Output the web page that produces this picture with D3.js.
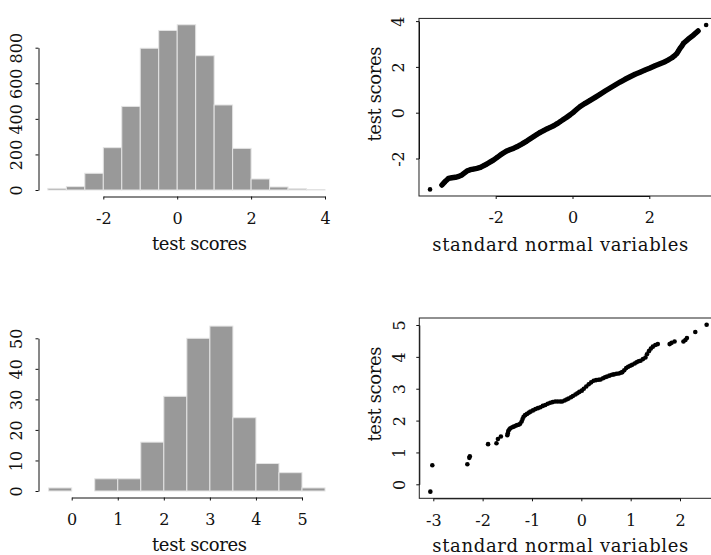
<!DOCTYPE html>
<html>
<head>
<meta charset="utf-8">
<script src="https://cdn.jsdelivr.net/npm/d3@7"></script>
<style>
    body { margin: 0; background: #fff; }
    svg { display: block; overflow: hidden; }
    text { font-family: "DejaVu Serif", serif; fill: #111; }
</style>
</head>
<body>
<div id="chart"></div>
<script>
// ---- data ----

// top left: histogram of 5000 test scores (bins of 0.5)
let hist1Edges = [-3.5, -3, -2.5, -2, -1.5, -1, -0.5, 0, 0.5, 1, 1.5, 2, 2.5, 3, 3.5, 4];
let hist1Counts = [9, 19, 94, 238, 470, 797, 897, 929, 755, 478, 234, 62, 17, 7, 2];
let hist1XTicks = [-2, 0, 2, 4];
let hist1YTicks = [0, 200, 400, 600, 800];

// bottom left: histogram of 200 test scores
let hist2Edges = [-0.5, 0, 0.5, 1, 1.5, 2, 2.5, 3, 3.5, 4, 4.5, 5, 5.5];
let hist2Counts = [1, 0, 4, 4, 16, 31, 50, 54, 24, 9, 6, 1];
let hist2XTicks = [0, 1, 2, 3, 4, 5];
let hist2YTicks = [0, 10, 20, 30, 40, 50];

// top right: qq plot (standard normal vs test scores), traced along the dense band
let qq1Theo = [-3.71, -3.40, -3.32, -3.23, -3.14, -3.05, -2.96, -2.88, -2.75, -2.66, -2.58, -2.49, -2.40, -2.31, -2.23,
    -2.14, -2.06, -1.97, -1.88, -1.80, -1.71, -1.62, -1.54, -1.45, -1.36, -1.28, -1.19, -1.10, -1.02, -0.93, -0.84,
    -0.75, -0.67, -0.58, -0.49, -0.40, -0.32, -0.23, -0.15, -0.06, 0.03, 0.12, 0.20, 0.33, 0.46, 0.59, 0.72, 0.85,
    0.98, 1.11, 1.24, 1.37, 1.50, 1.63, 1.76, 1.89, 2.02, 2.15, 2.28, 2.41, 2.50, 2.59, 2.66, 2.72, 2.76, 2.80, 2.85,
    2.89, 2.96, 3.02, 3.09, 3.15, 3.21, 3.27, 3.48];
let qq1Sample = [-3.35, -3.16, -3.01, -2.87, -2.84, -2.82, -2.78, -2.72, -2.55, -2.49, -2.46, -2.43, -2.39, -2.31, -2.24,
    -2.15, -2.07, -1.96, -1.85, -1.76, -1.67, -1.61, -1.56, -1.49, -1.41, -1.33, -1.24, -1.14, -1.05, -0.95, -0.86,
    -0.78, -0.71, -0.64, -0.57, -0.48, -0.39, -0.29, -0.20, -0.09, 0.03, 0.16, 0.27, 0.41, 0.54, 0.67, 0.81, 0.95,
    1.08, 1.21, 1.34, 1.46, 1.57, 1.68, 1.77, 1.86, 1.95, 2.05, 2.14, 2.23, 2.31, 2.40, 2.49, 2.59, 2.70, 2.81, 2.92,
    3.03, 3.13, 3.22, 3.31, 3.39, 3.48, 3.57, 3.83];
let qq1XTicks = [-2, 0, 2];
let qq1YTicks = [-2, 0, 2, 4];

// bottom right: qq plot of the 200 scores
let qq2Theo = [-3.06, -3.02, -2.31, -2.27, -2.26, -1.89, -1.72, -1.69, -1.63, -1.50, -1.49, -1.48, -1.46, -1.44, -1.40,
    -1.37, -1.33, -1.30, -1.27, -1.24, -1.21, -1.19, -1.17, -1.14, -1.10, -1.06, -1.03, -0.98, -0.93, -0.88, -0.83,
    -0.78, -0.73, -0.68, -0.63, -0.58, -0.53, -0.48, -0.43, -0.39, -0.34, -0.30, -0.26, -0.21, -0.17, -0.12, -0.08,
    -0.04, 0.01, 0.05, 0.10, 0.15, 0.20, 0.25, 0.30, 0.35, 0.39, 0.44, 0.48, 0.52, 0.57, 0.62, 0.66, 0.71, 0.76, 0.80,
    0.83, 0.87, 0.91, 0.95, 0.99, 1.03, 1.08, 1.12, 1.16, 1.20, 1.25, 1.30, 1.33, 1.37, 1.41, 1.45, 1.50, 1.55, 1.79,
    1.83, 1.89, 2.07, 2.11, 2.14, 2.31, 2.54];
let qq2Sample = [-0.23, 0.60, 0.63, 0.83, 0.88, 1.26, 1.29, 1.42, 1.50, 1.54, 1.60, 1.67, 1.72, 1.76, 1.79, 1.81, 1.84,
    1.86, 1.87, 1.90, 1.97, 2.05, 2.12, 2.17, 2.21, 2.25, 2.28, 2.32, 2.36, 2.39, 2.42, 2.46, 2.49, 2.53, 2.56, 2.58,
    2.60, 2.60, 2.60, 2.60, 2.63, 2.66, 2.69, 2.73, 2.77, 2.82, 2.86, 2.90, 2.94, 3.00, 3.07, 3.14, 3.20, 3.25, 3.27,
    3.28, 3.29, 3.33, 3.36, 3.38, 3.41, 3.44, 3.45, 3.47, 3.48, 3.50, 3.52, 3.58, 3.65, 3.69, 3.72, 3.75, 3.79, 3.83,
    3.86, 3.88, 3.93, 3.98, 4.08, 4.18, 4.26, 4.32, 4.37, 4.40, 4.40, 4.44, 4.48, 4.48, 4.53, 4.59, 4.78, 5.01];
let qq2XTicks = [-3, -2, -1, 0, 1, 2];
let qq2YTicks = [0, 1, 2, 3, 4, 5];

let xLabelQQ = 'standard normal variables';
let yLabelQQ = 'test scores';
let xLabelHist = 'test scores';

// ---- page ----
let svg = d3.select('#chart')
    .append('svg')
    .attr('width', 711)
    .attr('height', 555);

let fontFamily = '"DejaVu Serif", serif';
let tickFont = 16;
let titleFont = 18;

// bottom axis, R style: line only from first to last tick
function bottomAxis(x, ticks, yPos, labelDrop) {
    let g = svg.append('g')
        .attr('transform', 'translate(0,' + yPos + ')')
        .call(d3.axisBottom(x).tickValues(ticks).tickSize(3).tickSizeOuter(0));
    g.selectAll('path, line').attr('stroke', '#111');
    g.selectAll('text')
        .attr('y', labelDrop)
        .attr('dy', 0)
        .attr('fill', '#111')
        .style('font-family', fontFamily)
        .style('font-size', tickFont + 'px')
        .text(d => d < 0 ? '-' + Math.abs(d) : d);
    return g;
}

// left axis with labels turned -90 degrees
function leftAxis(y, ticks, xPos, labelShift) {
    let g = svg.append('g')
        .attr('transform', 'translate(' + xPos + ',0)')
        .call(d3.axisLeft(y).tickValues(ticks).tickSize(3).tickSizeOuter(0));
    g.selectAll('path, line').attr('stroke', '#111');
    g.selectAll('text')
        .attr('x', 0)
        .attr('dy', 0)
        .attr('transform', 'translate(' + labelShift + ',0) rotate(-90)')
        .attr('text-anchor', 'middle')
        .attr('fill', '#111')
        .style('font-family', fontFamily)
        .style('font-size', tickFont + 'px')
        .text(d => d < 0 ? '-' + Math.abs(d) : d);
    return g;
}

function title(txt, cx, cy, width, rotate) {
    svg.append('text')
        .attr('transform', 'translate(' + cx + ',' + cy + ')' + (rotate ? ' rotate(-90)' : ''))
        .attr('text-anchor', 'middle')
        .attr('textLength', width)
        .attr('lengthAdjust', 'spacing')
        .style('font-family', fontFamily)
        .style('font-size', titleFont + 'px')
        .text(txt);
}

function drawHist(edges, counts, x, y) {
    svg.append('g')
        .selectAll('rect')
        .data(counts)
        .join('rect')
        .attr('x', (d, i) => x(edges[i]))
        .attr('width', (d, i) => x(edges[i + 1]) - x(edges[i]))
        .attr('y', d => y(d))
        .attr('height', d => y(0) - y(d))
        .attr('fill', '#999999')
        .attr('stroke', '#e4e4e4')
        .attr('stroke-width', 1);
}

// R pads the qq plot region by 4% of the data range
function padded(vals) {
    let e = d3.extent(vals);
    let r = e[1] - e[0];
    return [e[0] - 0.04 * r, e[1] + 0.04 * r];
}

function drawQQ(theo, sample, x, y, band) {
    let xr = padded(theo);
    let yr = padded(sample);
    let box = {
        left: x(xr[0]),
        right: x(xr[1]),
        top: y(yr[1]),
        bottom: y(yr[0])
    };
    svg.append('rect')
        .attr('x', box.left)
        .attr('y', box.top)
        .attr('width', box.right - box.left)
        .attr('height', box.bottom - box.top)
        .attr('fill', 'none')
        .attr('stroke', '#222')
        .attr('stroke-width', 1);

    let pts = theo.map((t, i) => [t, sample[i]]);

    // dense overplotted band
    if (band) {
        let line = d3.line()
            .x(d => x(d[0]))
            .y(d => y(d[1]));
        svg.append('path')
            .datum(pts.slice(1, pts.length - 1))
            .attr('d', line)
            .attr('fill', 'none')
            .attr('stroke', '#000')
            .attr('stroke-width', 5.4)
            .attr('stroke-linecap', 'round')
            .attr('stroke-linejoin', 'round');
    }

    svg.append('g')
        .selectAll('circle')
        .data(pts)
        .join('circle')
        .attr('cx', d => x(d[0]))
        .attr('cy', d => y(d[1]))
        .attr('r', 2.3)
        .attr('fill', '#000');

    return box;
}

// ---- top left histogram ----
let h1x = d3.scaleLinear().domain([-2, 4]).range([103.3, 325]);
let h1y = d3.scaleLinear().domain([0, 800]).range([190, 47.7]);
drawHist(hist1Edges, hist1Counts, h1x, h1y);
bottomAxis(h1x, hist1XTicks, 196.5, 27);
leftAxis(h1y, hist1YTicks, 38.5, -16.5);
title(xLabelHist, 199.5, 249.5, 95);

// ---- bottom left histogram ----
let h2x = d3.scaleLinear().domain([0, 5]).range([71.7, 302]);
let h2y = d3.scaleLinear().domain([0, 50]).range([491, 338.3]);
drawHist(hist2Edges, hist2Counts, h2x, h2y);
bottomAxis(h2x, hist2XTicks, 497.5, 27.5);
leftAxis(h2y, hist2YTicks, 38.5, -16.5);
title(xLabelHist, 199.5, 550.5, 95);

// ---- top right qq plot ----
let q1x = d3.scaleLinear().domain([-2, 2]).range([495.7, 649.3]);
let q1y = d3.scaleLinear().domain([-2, 4]).range([158.5, 21.1]);
let b1 = drawQQ(qq1Theo, qq1Sample, q1x, q1y, true);
bottomAxis(q1x, qq1XTicks, b1.bottom, 27);
leftAxis(q1y, qq1YTicks, b1.left, -14.5);
title(xLabelQQ, 560.3, 251, 256);
title(yLabelQQ, 381, 94, 95, true);

// ---- bottom right qq plot ----
let q2x = d3.scaleLinear().domain([-3, 2]).range([433.3, 680]);
let q2y = d3.scaleLinear().domain([0, 5]).range([484.3, 325]);
let b2 = drawQQ(qq2Theo, qq2Sample, q2x, q2y, false);
bottomAxis(q2x, qq2XTicks, b2.bottom, 27.5);
leftAxis(q2y, qq2YTicks, b2.left, -14.5);
title(xLabelQQ, 560.3, 552, 256);
title(yLabelQQ, 381, 394, 95, true);
</script>
</body>
</html>
